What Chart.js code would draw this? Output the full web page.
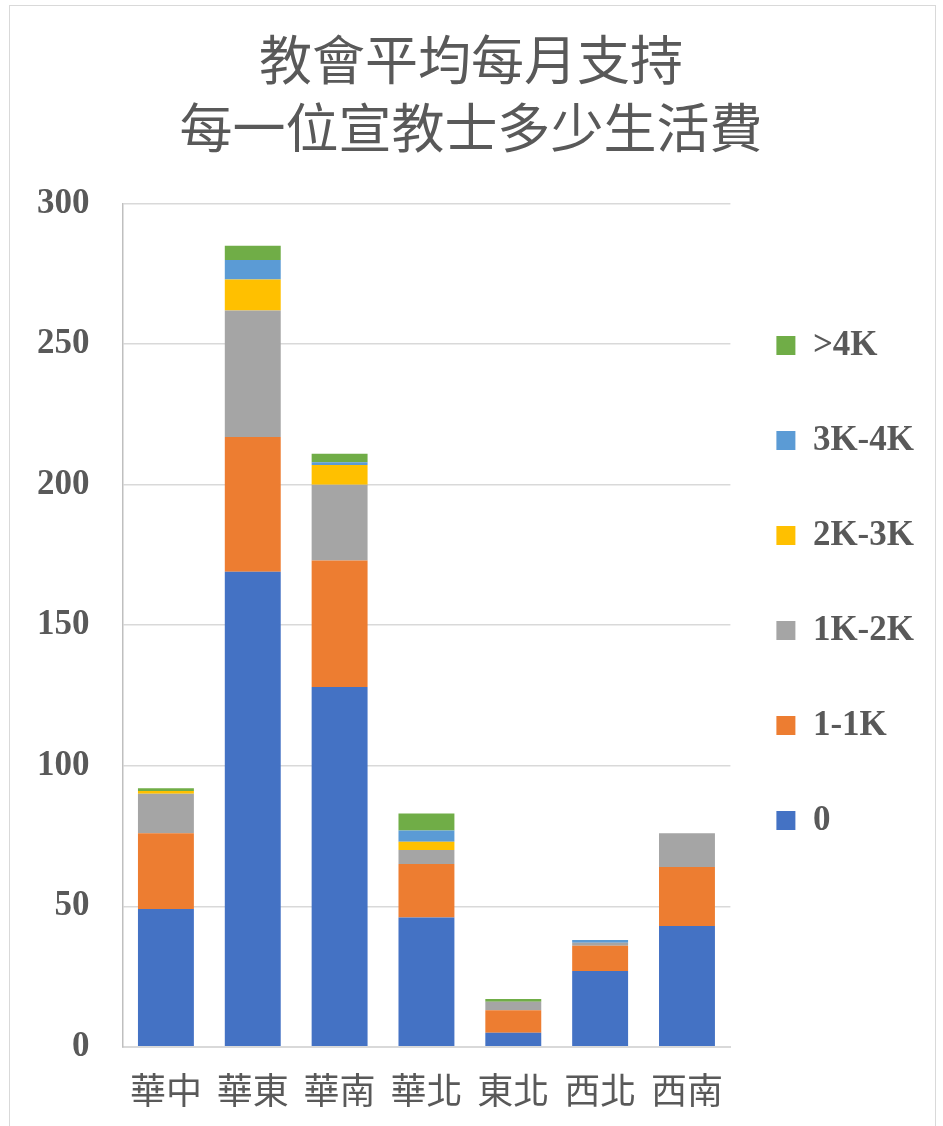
<!DOCTYPE html>
<html>
<head>
<meta charset="utf-8">
<script src="https://cdn.jsdelivr.net/npm/chart.js@4/dist/chart.umd.min.js"></script>
<style>
  html, body { margin: 0; padding: 0; background: #fff; }
  #frame { position: absolute; left: 9px; top: 5px; width: 925px; height: 1140px; border: 1px solid #d9d9d9; }
  #wrap { position: absolute; left: 0; top: 0; width: 943px; height: 1126px; }
</style>
</head>
<body>
<div id="frame"></div>
<div id="wrap"><canvas id="supportChart" width="943" height="1126"></canvas></div>
<script>
var regions = ['華中', '華東', '華南', '華北', '東北', '西北', '西南']

// number of missionaries in each monthly support band, per region
var band0 = [49, 169, 128, 46, 5, 27, 43]
var band1to1k = [27, 48, 45, 19, 8, 9, 21]
var band1kto2k = [14, 45, 27, 5, 3, 1, 12]
var band2kto3k = [1, 11, 7, 3, 0, 0, 0]
var band3kto4k = [0, 7, 1, 4, 0, 1, 0]
var bandOver4k = [1, 5, 3, 6, 1, 0, 0]

var bandLabels = ['0', '1-1K', '1K-2K', '2K-3K', '3K-4K', '>4K']
var bandColors = ['#4472C4', '#ED7D31', '#A5A5A5', '#FFC000', '#5B9BD5', '#70AD47']

var titleLines = ['教會平均每月支持', '每一位宣教士多少生活費']

var textColor = '#595959'
var serif = "'Liberation Serif', 'Times New Roman', serif"
var cjk = "'Noto Sans CJK TC', 'Noto Sans CJK SC', sans-serif"

function buildDatasets () {
  var series = [band0, band1to1k, band1kto2k, band2kto3k, band3kto4k, bandOver4k]
  var datasets = []
  for (var i = 0; i < series.length; i++) {
    datasets.push({
      label: bandLabels[i],
      data: series[i],
      backgroundColor: bandColors[i],
      borderWidth: 0,
      categoryPercentage: 1,
      barPercentage: 0.644
    })
  }
  return datasets
}

// the legend padding also sets the gap to the plot, so pull the legend
// a bit closer to the bars once the layout is done
var legendNudge = {
  id: 'legendNudge',
  afterLayout: function (chart) {
    chart.legend.left -= 14
    chart.legend.right -= 14
  }
}

var ctx = document.getElementById('supportChart').getContext('2d')
new Chart(ctx, {
  type: 'bar',
  data: {
    labels: regions,
    datasets: buildDatasets()
  },
  plugins: [legendNudge],
  options: {
    responsive: false,
    animation: false,
    layout: {
      padding: { left: 4, right: 5, top: 0, bottom: -8 }
    },
    plugins: {
      title: {
        display: true,
        text: titleLines,
        color: textColor,
        font: { family: cjk, size: 53, weight: 'normal', lineHeight: 1.28 },
        padding: { top: 26, bottom: 42 }
      },
      legend: {
        position: 'right',
        align: 'start',
        reverse: true,
        title: {
          display: true,
          text: ' ',
          font: { size: 10 },
          padding: { top: 256, bottom: 0 }
        },
        labels: {
          color: textColor,
          boxWidth: 19,
          boxHeight: 19,
          padding: 60,
          font: { family: serif, size: 35, weight: 'bold' }
        }
      },
      tooltip: { enabled: false }
    },
    scales: {
      x: {
        stacked: true,
        grid: { display: false, drawTicks: false },
        border: { color: '#d9d9d9', width: 2 },
        ticks: {
          color: textColor,
          padding: 22,
          font: { family: cjk, size: 36 }
        }
      },
      y: {
        stacked: true,
        min: 0,
        max: 300,
        grid: { color: '#d9d9d9', lineWidth: 1.5, drawTicks: false },
        border: { color: '#bfbfbf', width: 1.5 },
        ticks: {
          stepSize: 50,
          color: textColor,
          padding: 33,
          font: { family: serif, size: 35, weight: 'bold' }
        }
      }
    }
  }
})
</script>
</body>
</html>
